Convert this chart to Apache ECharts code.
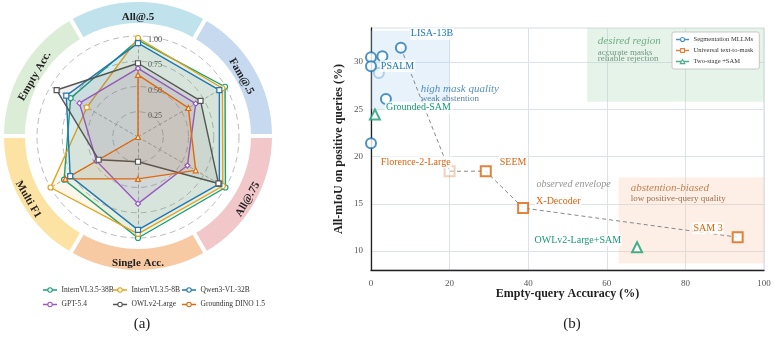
<!DOCTYPE html>
<html>
<head>
<meta charset="utf-8">
<script src="https://cdn.jsdelivr.net/npm/echarts@6/dist/echarts.min.js"></script>
<style>
html, body { margin: 0; padding: 0; background: #fff; }
#chart { width: 777px; height: 339px; }
</style>
</head>
<body>
<div id="chart"></div>
<script>
// ---------- (a) radar ----------
const radarAxes = ['All@.5', 'Fam@.5', 'All@.75', 'Single Acc.', 'Multi F1', 'Empty Acc.'];
const radarTicks = ['0.25', '0.50', '0.75', '1.00'];
const modelNames = ['InternVL3.5-38B', 'InternVL3.5-8B', 'Qwen3-VL-32B', 'GPT-5.4', 'OWLv2-Large', 'Grounding DINO 1.5'];
const internvl38b = [0.96, 0.995, 1.0, 1.0, 0.845, 0.77];
const internvl8b  = [0.98, 0.965, 0.97, 0.96, 1.0, 0.585];
const qwen32b     = [0.93, 0.93, 0.93, 0.92, 0.775, 0.82];
const gpt54       = [0.68, 0.66, 0.565, 0.66, 0.475, 0.67];
const owlv2       = [0.73, 0.715, 0.92, 0.245, 0.45, 0.93];
const gdino15     = [0.615, 0.576, 0.66, 0.415, 0.83, 0.0];

// ---------- (b) scatter ----------
const segX = [7.6, 2.9, 0, 0, 2.0, 3.8, 0];
const segY = [31.5, 30.6, 30.5, 29.55, 28.85, 26.1, 21.4];
const segLabels = ['LISA-13B', '', '', '', 'PSALM', '', ''];
const uniX = [20, 29.2, 38.7, 93.3];
const uniY = [18.45, 18.45, 14.56, 11.47];
const uniLabels = ['Florence-2-Large', 'SEEM', 'X-Decoder', 'SAM 3'];
const twoX = [1.0, 67.7];
const twoY = [24.45, 10.4];
const twoLabels = ['Grounded-SAM', 'OWLv2-Large+SAM'];
const envelope = ['LISA-13B', 'Florence-2-Large', 'SEEM', 'X-Decoder', 'SAM 3'];
const xTicks = [0, 20, 40, 60, 80, 100];
const yTicks = [10, 15, 20, 25, 30];

// shaded regions [x0, y0, x1, y1]
const regionMask = [0, 25, 20, 33.3];
const regionDesired = [55, 25.8, 100, 33.6];
const regionAbstain = [63, 8.7, 100, 17.8];

const noteText = ['high mask quality', 'weak abstention', 'desired region', 'accurate masks', 'reliable rejection', 'observed envelope', 'abstention-biased', 'low positive-query quality'];
const noteX = [12.65, 12.65, 57.7, 57.7, 57.7, 42.1, 66.1, 66.1];
const noteY = [27.16, 26.15, 32.2, 31.0, 30.36, 17.05, 16.66, 15.6];

// ---------- styles ----------
const serif = 'Liberation Serif';
const modelColors = ['#1b9e77', '#e3a21a', '#2477b3', '#9b59c2', '#555555', '#de6a12'];
const modelSymbols = ['circle', 'circle', 'rect', 'diamond', 'rect', 'triangle'];
const bandColors = ['#bfe2ec', '#c6d9ef', '#f2c7ca', '#f7caa3', '#fde3a3', '#dcedd7'];
const segColor = '#1f78b4', uniColor = '#d9640f', twoColor = '#1a9c70';

const labelStyle = {
    'LISA-13B': { align: 'left', offset: [9, -14] },
    'PSALM': { align: 'left', offset: [1, -7] },
    'Grounded-SAM': { align: 'left', offset: [10, -7] },
    'Florence-2-Large': { align: 'right', offset: [2, -9] },
    'SEEM': { align: 'left', offset: [13, -9] },
    'X-Decoder': { align: 'left', offset: [12, -7] },
    'SAM 3': { align: 'right', offset: [-14, -9] },
    'OWLv2-Large+SAM': { align: 'right', offset: [-15, -7] }
};
const fadedPoints = ['PSALM', 'Florence-2-Large'];
const noteStyle = [
    { color: '#2b73ad', size: 11, italic: true },
    { color: '#2d5f8c', size: 9 },
    { color: '#4f9a6a', size: 11, italic: true },
    { color: '#5a7f68', size: 9 },
    { color: '#5a7f68', size: 9 },
    { color: '#777777', size: 10, italic: true },
    { color: '#b8642a', size: 11, italic: true },
    { color: '#8a4a22', size: 9 }
];

// legend icons: line stubs + hollow marker, stroked with the series colour
const lineSide = 'M0,3.6H6.6V4.4H0Z M13.4,3.6H20V4.4H13.4Z ';
const iconCircle = 'path://' + lineSide + 'M6.6,4A3.4,3.4 0 1 0 13.4,4A3.4,3.4 0 1 0 6.6,4Z';
const iconSquare = 'path://' + lineSide + 'M6.8,0.8H13.2V7.2H6.8Z';
const iconTriangle = 'path://' + lineSide + 'M10,0.4L13.8,7.4L6.2,7.4Z';
const hollow = c => ({ color: '#fff', borderColor: c, borderWidth: 1.1 });

const chart = echarts.init(document.getElementById('chart'), null, { renderer: 'canvas' });

// radar indicators run counter-clockwise in ECharts, reorder the clockwise list
const ccw = [0, 5, 4, 3, 2, 1];
const indicators = ccw.map((k, i) => {
    const ind = { name: radarAxes[k], min: 0, max: 1 };
    if (i === 0) {
        ind.axisLabel = {
            show: true, color: '#444', fontSize: 8, fontFamily: serif, margin: -24, verticalAlign: 'top',
            formatter: v => radarTicks[Math.round(v / 0.25) - 1] || ''
        };
    }
    return ind;
});
const radarData = [internvl38b, internvl8b, qwen32b, gpt54, owlv2, gdino15];

const radarSeries = modelNames.map((name, i) => ({
    name, type: 'radar', radarIndex: 0, z: 3,
    symbol: modelSymbols[i], symbolSize: 5,
    lineStyle: { color: modelColors[i], width: 1.4 },
    itemStyle: { color: '#fff', borderColor: modelColors[i], borderWidth: 1.2 },
    areaStyle: { color: modelColors[i], opacity: 0.09 },
    data: [{ name, value: ccw.map(k => radarData[i][k]) }]
}));

// coloured ring of metric names: one pie for the bands, one transparent pie for the texts
const bandSeries = {
    type: 'pie', silent: true, center: [138, 136], radius: [111, 136],
    startAngle: 120, clockwise: true, z: 1,
    itemStyle: { borderColor: '#fff', borderWidth: 4 },
    label: { show: false }, labelLine: { show: false },
    emphasis: { disabled: true },
    data: radarAxes.map((a, i) => ({ name: a, value: 1, itemStyle: { color: bandColors[i] } }))
};
const bandLabelSeries = {
    type: 'pie', silent: true, center: [138, 136], radius: [104, 136],
    startAngle: 120, clockwise: true, z: 2,
    itemStyle: { color: 'rgba(0,0,0,0)' },
    label: { show: true, position: 'inside', rotate: 'tangential', offset: [0, 3.7], color: '#222', fontSize: 11, fontWeight: 'bold', fontFamily: serif },
    labelLine: { show: false },
    emphasis: { disabled: true },
    data: radarAxes.map(a => ({ name: a, value: 1 }))
};

function scatterSeries(name, xs, ys, labels, symbol, color) {
    return {
        name, type: 'scatter', symbol, symbolSize: 10, z: 5,
        itemStyle: { color: '#fff', borderColor: color, borderWidth: 2 },
        data: xs.map((x, i) => {
            const lab = labels[i];
            const item = { value: [x, ys[i]], name: lab };
            if (fadedPoints.includes(lab)) item.itemStyle = { opacity: 0.3 };
            const st = labelStyle[lab];
            if (st) {
                item.label = {
                    show: true, formatter: lab, position: 'inside', align: st.align, verticalAlign: 'middle',
                    offset: st.offset, color, opacity: 1, fontSize: 10, fontFamily: serif,
                    backgroundColor: 'rgba(255,255,255,0.8)', padding: [1, 1]
                };
            }
            return item;
        })
    };
}

const pointByName = {};
[[segX, segY, segLabels], [uniX, uniY, uniLabels], [twoX, twoY, twoLabels]].forEach(([xs, ys, ls]) => {
    ls.forEach((l, i) => { if (l) pointByName[l] = [xs[i], ys[i]]; });
});

const rect = (r, color) => [{ xAxis: r[0], yAxis: r[1], itemStyle: { color } }, { xAxis: r[2], yAxis: r[3] }];

const envelopeSeries = {
    type: 'line', silent: true, z: 3, symbol: 'none',
    lineStyle: { color: '#888', width: 1, type: [4, 3] },
    data: envelope.map(n => pointByName[n]),
    markArea: {
        silent: true,
        data: [
            rect(regionMask, 'rgba(170,210,240,0.28)'),
            rect(regionDesired, 'rgba(160,210,172,0.27)'),
            rect(regionAbstain, 'rgba(245,190,150,0.24)')
        ]
    }
};

const noteSeries = {
    type: 'scatter', silent: true, symbolSize: 0, z: 6,
    data: noteText.map((t, i) => ({
        value: [noteX[i], noteY[i]],
        label: {
            show: true, formatter: t, position: 'inside', align: 'left', verticalAlign: 'middle',
            color: noteStyle[i].color, fontSize: noteStyle[i].size, fontFamily: serif,
            fontStyle: noteStyle[i].italic ? 'italic' : 'normal'
        }
    }))
};

const radarLegend = (names, left) => ({
    orient: 'vertical', left, top: 286, itemWidth: 13, itemHeight: 5, itemGap: 6.5, padding: 0,
    selectedMode: false,
    textStyle: { fontSize: 7.5, color: '#333', fontFamily: serif },
    data: names.map(n => {
        const i = modelNames.indexOf(n);
        return { name: n, icon: iconCircle, itemStyle: hollow(modelColors[i]) };
    })
});

chart.setOption({
    animation: false,
    title: [
        { text: '(a)', left: 137, top: 312, textAlign: 'center', textStyle: { fontSize: 15, fontWeight: 'normal', fontFamily: serif, color: '#222' } },
        { text: '(b)', left: 567, top: 312, textAlign: 'center', textStyle: { fontSize: 15, fontWeight: 'normal', fontFamily: serif, color: '#222' } }
    ],
    legend: [
        radarLegend([modelNames[0], modelNames[3]], 43),
        radarLegend([modelNames[1], modelNames[4]], 113),
        radarLegend([modelNames[2], modelNames[5]], 182),
        {
            orient: 'vertical', left: 672, top: 32, itemWidth: 12, itemHeight: 5, itemGap: 4,
            padding: [4, 6, 4, 4], backgroundColor: '#fff', borderColor: '#bbb', borderWidth: 0.8, borderRadius: 2,
            selectedMode: false,
            textStyle: { fontSize: 6.5, color: '#333', fontFamily: serif },
            data: [
                { name: 'Segmentation MLLMs', icon: iconCircle, itemStyle: hollow(segColor) },
                { name: 'Universal text-to-mask', icon: iconSquare, itemStyle: hollow(uniColor) },
                { name: 'Two-stage +SAM', icon: iconTriangle, itemStyle: hollow(twoColor) }
            ]
        }
    ],
    radar: {
        center: [138, 137], radius: 101, startAngle: 90, splitNumber: 4, shape: 'circle',
        axisName: { show: false },
        axisLine: { lineStyle: { color: '#999', type: [3, 3], width: 0.8 } },
        splitLine: { lineStyle: { color: '#aaa', type: [6, 4], width: 0.8 } },
        splitArea: { show: false },
        indicator: indicators
    },
    grid: { left: 371, right: 13, top: 28, bottom: 69, show: true, borderColor: '#d5dbe3', borderWidth: 1 },
    xAxis: {
        type: 'value', min: 0, max: 100, interval: 20,
        name: 'Empty-query Accuracy (%)', nameLocation: 'middle', nameGap: 18, nameMoveOverlap: false,
        nameTextStyle: { fontSize: 12, fontWeight: 'bold', fontFamily: serif, color: '#222' },
        axisLine: { lineStyle: { color: '#222', width: 1.3 } },
        axisTick: { show: false },
        axisLabel: { color: '#555', fontSize: 9, fontFamily: serif, margin: 9, formatter: v => xTicks.includes(v) ? String(v) : '' },
        splitLine: { lineStyle: { color: '#dde2ea', width: 1 } }
    },
    yAxis: {
        type: 'value', min: 8, max: 33.6,
        name: 'All-mIoU on positive queries (%)', nameLocation: 'middle', nameGap: 26, nameMoveOverlap: false,
        nameTextStyle: { fontSize: 12, fontWeight: 'bold', fontFamily: serif, color: '#222' },
        axisLine: { show: true, lineStyle: { color: '#222', width: 1.3 } },
        axisTick: { show: false, customValues: yTicks },
        axisLabel: { color: '#555', fontSize: 9, fontFamily: serif, margin: 8, customValues: yTicks },
        splitLine: { lineStyle: { color: '#dde2ea', width: 1 } }
    },
    series: [
        bandSeries,
        bandLabelSeries,
        ...radarSeries,
        envelopeSeries,
        scatterSeries('Segmentation MLLMs', segX, segY, segLabels, 'circle', segColor),
        scatterSeries('Universal text-to-mask', uniX, uniY, uniLabels, 'rect', uniColor),
        scatterSeries('Two-stage +SAM', twoX, twoY, twoLabels, 'triangle', twoColor),
        noteSeries
    ]
});
</script>
</body>
</html>
